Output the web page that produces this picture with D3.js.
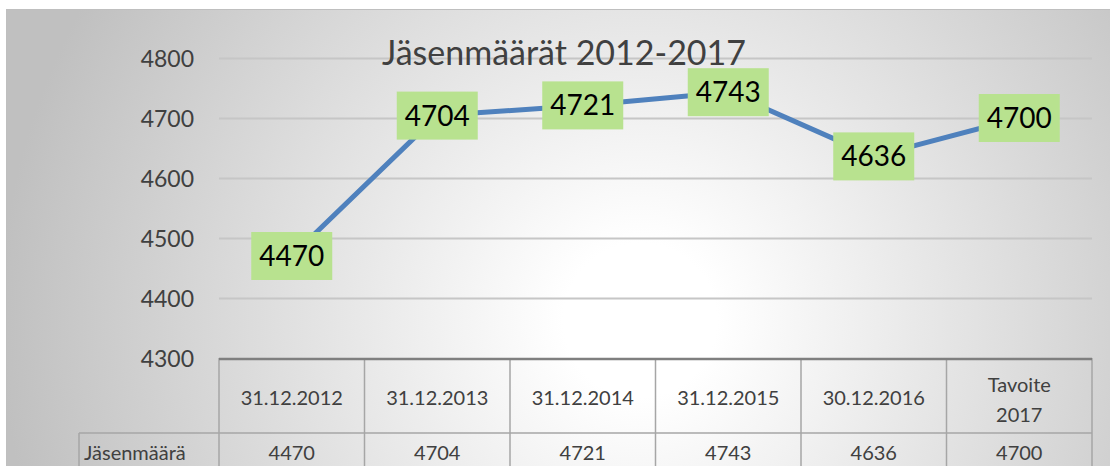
<!DOCTYPE html>
<html>
<head>
<meta charset="utf-8">
<script src="https://cdn.jsdelivr.net/npm/d3@7"></script>
<style>
  body { margin: 0; background: #fff; }
  svg { display: block; }
</style>
</head>
<body>
<div id="chart"></div>
<script>
const categories = ["31.12.2012", "31.12.2013", "31.12.2014", "31.12.2015", "30.12.2016", "Tavoite 2017"];
const values = [4470, 4704, 4721, 4743, 4636, 4700];
const yTicks = [4300, 4400, 4500, 4600, 4700, 4800];
const seriesName = "Jäsenmäärä";
const title = "Jäsenmäärät 2012-2017";

(function() {
  const width = 1110;
  const height = 466;
  const font = "Lato, 'Open Sans', sans-serif";
  const textCol = "#404040";

  const svg = d3.select("#chart")
    .append("svg")
    .attr("width", width)
    .attr("height", height);

  // radial background like the office preset
  const grad = svg.append("defs").append("radialGradient")
    .attr("id", "bg")
    .attr("gradientUnits", "userSpaceOnUse")
    .attr("cx", 640).attr("cy", 320).attr("r", 640);
  grad.append("stop").attr("offset", "0").attr("stop-color", "#ffffff");
  grad.append("stop").attr("offset", "0.12").attr("stop-color", "#ffffff");
  grad.append("stop").attr("offset", "1").attr("stop-color", "#c0c0c0");

  svg.append("rect")
    .attr("x", 6.5).attr("y", 9.5)
    .attr("width", width).attr("height", height)
    .attr("fill", "url(#bg)")
    .attr("stroke", "#bfbfbf");

  const x = d3.scaleBand()
    .domain(categories)
    .range([219, 1092])
    .padding(0);

  const y = d3.scaleLinear()
    .domain([4300, 4800])
    .range([358, 58]);

  // gridlines
  svg.append("g")
    .attr("transform", "translate(219,0)")
    .call(d3.axisRight(y).tickValues(yTicks.slice(1)).tickSize(x.range()[1] - x.range()[0]).tickFormat(""))
    .call(g => g.select(".domain").remove())
    .call(g => g.selectAll("line").attr("stroke", "#c6c6c6").attr("stroke-width", 2));

  // y labels
  svg.append("g")
    .attr("transform", "translate(194,0)")
    .call(d3.axisLeft(y).tickValues(yTicks).tickSize(0).tickPadding(0).tickFormat(d3.format("d")))
    .call(g => g.select(".domain").remove())
    .call(g => g.selectAll("text")
      .attr("fill", textCol)
      .attr("dy", "0.36em")
      .style("font-family", font)
      .style("font-size", "23px"));

  svg.append("text")
    .attr("x", 564).attr("y", 65)
    .attr("text-anchor", "middle")
    .attr("fill", textCol)
    .style("font-family", font)
    .style("font-size", "34px")
    .text(title);

  // data table
  const tbl = svg.append("g");
  const x0 = x.range()[0], x1 = x.range()[1];
  const rowTop = y(4300), rowMid = 433;

  tbl.selectAll(".vline")
    .data(categories.concat(["_end"]))
    .join("line")
    .attr("x1", (d, i) => x0 + i * x.bandwidth())
    .attr("x2", (d, i) => x0 + i * x.bandwidth())
    .attr("y1", rowTop).attr("y2", height)
    .attr("stroke", "#a6a6a6").attr("stroke-width", 1.5);

  tbl.append("line")
    .attr("x1", 79).attr("x2", 79).attr("y1", rowMid).attr("y2", height)
    .attr("stroke", "#a6a6a6").attr("stroke-width", 1.5);
  tbl.append("line")
    .attr("x1", 79).attr("x2", x1).attr("y1", rowMid).attr("y2", rowMid)
    .attr("stroke", "#a6a6a6").attr("stroke-width", 1.5);
  tbl.append("line")
    .attr("x1", x0).attr("x2", x1).attr("y1", rowTop + 1).attr("y2", rowTop + 1)
    .attr("stroke", "#7f7f7f").attr("stroke-width", 2.5);

  const head = tbl.selectAll(".head")
    .data(categories)
    .join("text")
    .attr("text-anchor", "middle")
    .attr("fill", textCol)
    .style("font-family", font)
    .style("font-size", "20px");
  head.each(function(d) {
    const cx = x(d) + x.bandwidth() / 2;
    const words = d.split(" ");
    const el = d3.select(this);
    if (d.indexOf(".") < 0 && words.length > 1) {
      words.forEach((w, i) => el.append("tspan").attr("x", cx).attr("y", 392 + i * 30).text(w));
    } else {
      el.attr("x", cx).attr("y", 405).text(d);
    }
  });

  tbl.selectAll(".val")
    .data(values)
    .join("text")
    .attr("x", (d, i) => x(categories[i]) + x.bandwidth() / 2)
    .attr("y", 460)
    .attr("text-anchor", "middle")
    .attr("fill", textCol)
    .style("font-family", font)
    .style("font-size", "20px")
    .text(d => d);

  tbl.append("text")
    .attr("x", 84).attr("y", 460)
    .attr("fill", textCol)
    .style("font-family", font)
    .style("font-size", "20px")
    .text(seriesName);

  // line
  const line = d3.line()
    .x((d, i) => x(categories[i]) + x.bandwidth() / 2)
    .y(d => y(d));

  svg.append("path")
    .datum(values)
    .attr("d", line)
    .attr("fill", "none")
    .attr("stroke", "#4f81bd")
    .attr("stroke-width", 5)
    .attr("stroke-linejoin", "round");

  // data labels
  const lbl = svg.selectAll(".lbl")
    .data(values)
    .join("g")
    .attr("transform", (d, i) => `translate(${x(categories[i]) + x.bandwidth() / 2},${y(d)})`);
  lbl.append("rect")
    .attr("x", -40.5).attr("y", -24)
    .attr("width", 81).attr("height", 48)
    .attr("fill", "#b8e28f");
  lbl.append("text")
    .attr("text-anchor", "middle")
    .attr("y", 10)
    .attr("fill", "#000")
    .style("font-family", font)
    .style("font-size", "28px")
    .text(d => d);
})();
</script>
</body>
</html>
